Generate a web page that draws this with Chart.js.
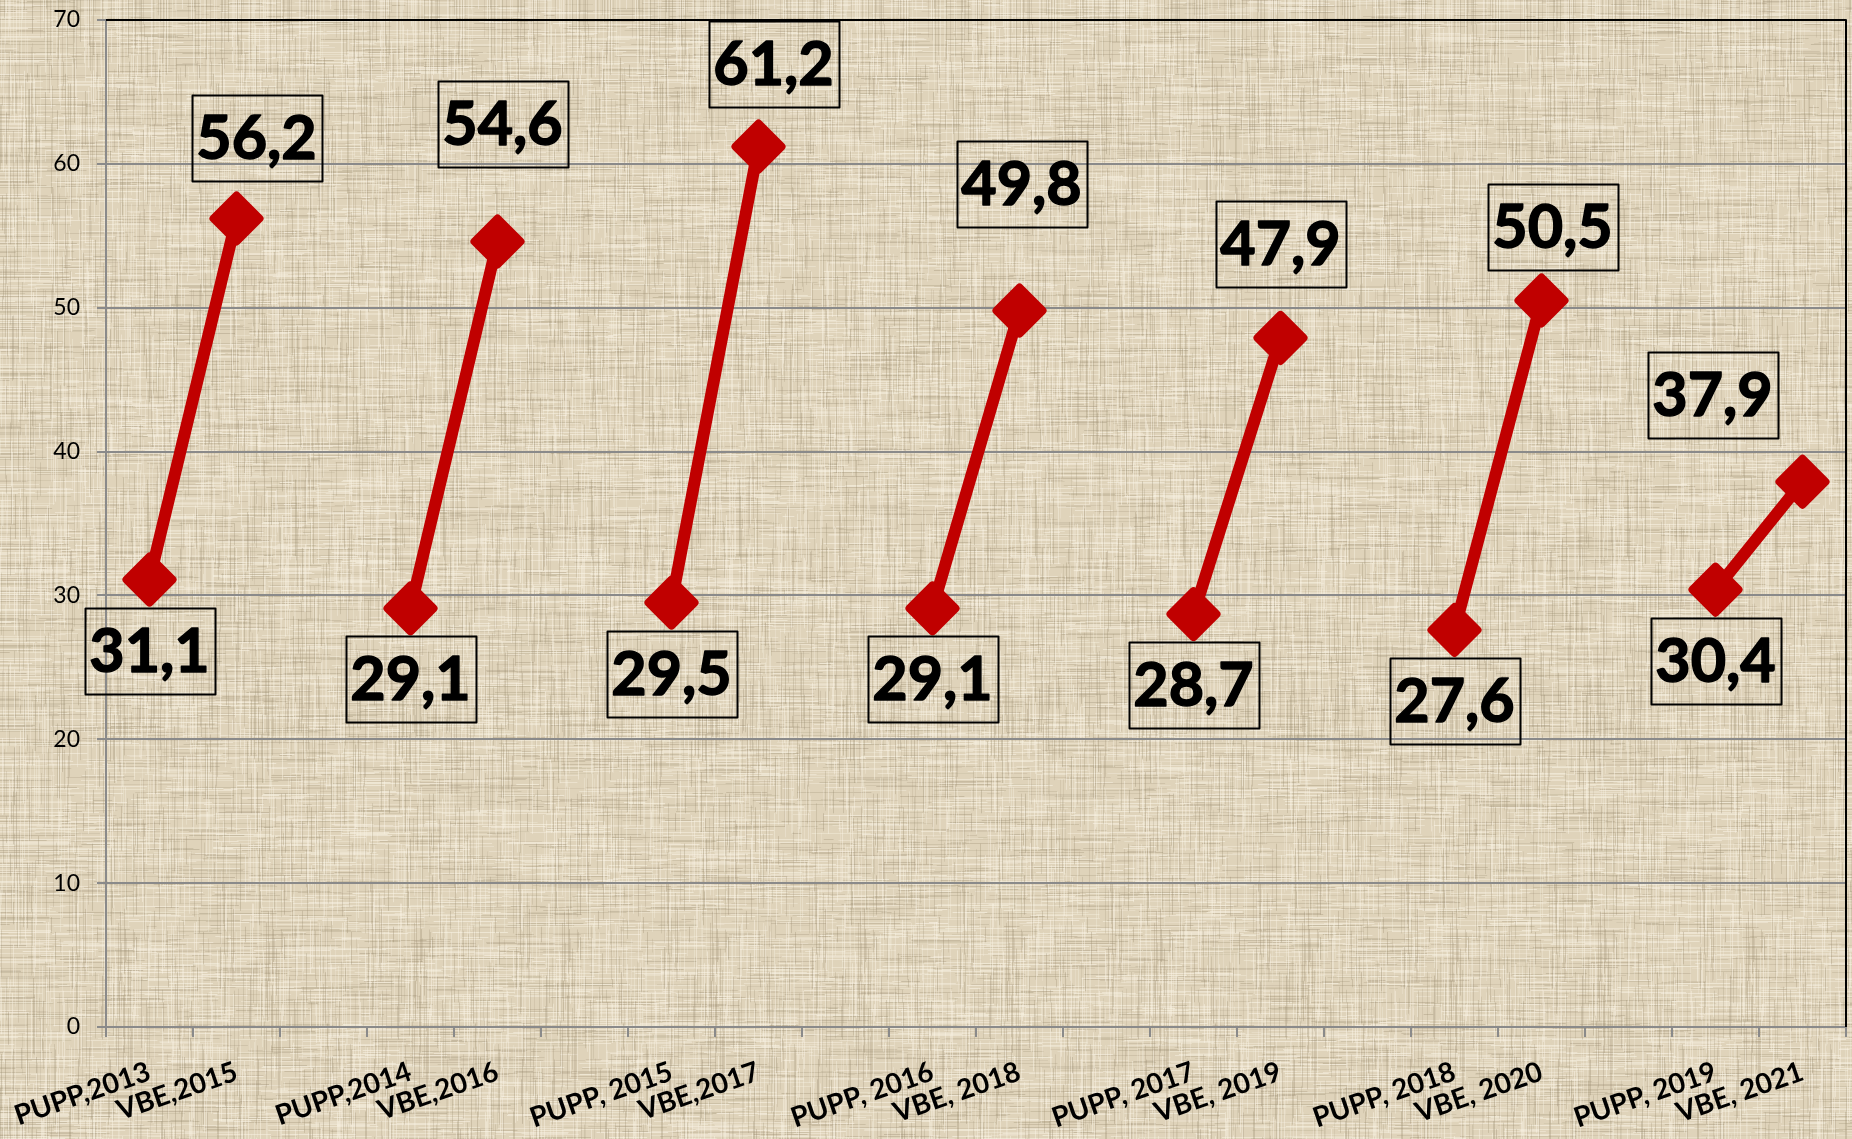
<!DOCTYPE html>
<html><head><meta charset="utf-8">
<script src="https://cdn.jsdelivr.net/npm/chart.js@4.4.1/dist/chart.umd.min.js"></script>
<style>html,body{margin:0;padding:0;background:#ddd4bf;overflow:hidden}canvas{display:block}</style>
</head><body>
<canvas id="c" width="1852" height="1139"></canvas>
<script>
// ---- data ----
const puppLabels = ["PUPP,2013","PUPP,2014","PUPP, 2015","PUPP, 2016","PUPP, 2017","PUPP, 2018","PUPP, 2019"];
const vbeLabels  = ["VBE,2015","VBE,2016","VBE,2017","VBE, 2018","VBE, 2019","VBE, 2020","VBE, 2021"];
const puppValues = [31.1, 29.1, 29.5, 29.1, 28.7, 27.6, 30.4];
const vbeValues  = [56.2, 54.6, 61.2, 49.8, 47.9, 50.5, 37.9];
const yMin = 0, yMax = 70, yStep = 10;

// ---- label placement (style, pixels) ----
const puppLabelDrop = 71;
const vbeLabelShift = [[20,-81],[5,-118],[15,-83],[2,-127],[0,-94],[11,-74],[-90,-87]];

// build category axis: PUPP, VBE, gap, PUPP, VBE, gap ...
const categories = [], series = [], kinds = [], pairIdx = [];
puppLabels.forEach((p, i) => {
  if (i > 0) { categories.push(""); series.push(null); kinds.push(null); pairIdx.push(i); }
  categories.push(p); series.push(puppValues[i]); kinds.push("pupp"); pairIdx.push(i);
  categories.push(vbeLabels[i]); series.push(vbeValues[i]); kinds.push("vbe"); pairIdx.push(i);
});

// ---- background texture (deterministic) ----
function makeTexture(w, h) {
  const c = document.createElement("canvas"); c.width = w; c.height = h;
  const g = c.getContext("2d");
  g.fillStyle = "#dfd3ba"; g.fillRect(0, 0, w, h);
  let s = 987654321;
  const rnd = () => { s = (s * 1103515245 + 12345) & 0x7fffffff; return s / 0x7fffffff; };
  for (let y = 0; y < h; y++) {
    let x = 0;
    while (x < w) {
      const len = 8 + rnd() * 70;
      const r = rnd();
      if (r < 0.3) { g.fillStyle = "rgba(250,244,230," + (0.25 + rnd() * 0.35) + ")"; g.fillRect(x, y, len, 1); }
      else if (r < 0.5) { g.fillStyle = "rgba(150,136,108," + (0.12 + rnd() * 0.22) + ")"; g.fillRect(x, y, len, 1); }
      x += len + rnd() * 30;
    }
  }
  for (let x = 0; x < w; x++) {
    let y = 0;
    while (y < h) {
      const len = 8 + rnd() * 70;
      const r = rnd();
      if (r < 0.25) { g.fillStyle = "rgba(250,244,230," + (0.2 + rnd() * 0.3) + ")"; g.fillRect(x, y, 1, len); }
      else if (r < 0.45) { g.fillStyle = "rgba(150,136,108," + (0.12 + rnd() * 0.22) + ")"; g.fillRect(x, y, 1, len); }
      y += len + rnd() * 30;
    }
  }
  return c;
}
const textureCanvas = makeTexture(1852, 1139);

const fmt = v => v.toFixed(1).replace(".", ",");

const decor = {
  id: "decor",
  beforeDraw(chart) {
    chart.ctx.save();
    chart.ctx.drawImage(textureCanvas, 0, 0);
    chart.ctx.restore();
  },
  beforeDatasetDraw(chart) { chart.ctx.lineJoin = "round"; },
  afterDatasetsDraw(chart) {
    const ctx = chart.ctx, a = chart.chartArea;
    ctx.save();
    ctx.strokeStyle = "#000"; ctx.lineWidth = 2;
    ctx.beginPath(); ctx.moveTo(a.left, a.top); ctx.lineTo(a.right, a.top); ctx.lineTo(a.right, a.bottom); ctx.stroke();
    const meta = chart.getDatasetMeta(0);
    ctx.font = "bold 61px Lato";
    ctx.textAlign = "center"; ctx.textBaseline = "alphabetic";
    series.forEach((v, i) => {
      if (v === null) return;
      const el = meta.data[i];
      let cx = el.x, cy = el.y;
      if (kinds[i] === "pupp") { cy += puppLabelDrop; }
      else { const sh = vbeLabelShift[pairIdx[i]]; cx += sh[0]; cy += sh[1]; }
      ctx.lineWidth = 2; ctx.strokeStyle = "#000";
      ctx.strokeRect(Math.round(cx - 65) + 0.5, Math.round(cy - 43) + 0.5, 130, 86);
      ctx.fillStyle = "#000";
      ctx.fillText(fmt(v), cx, cy + 21);
      ctx.lineWidth = 1.5; ctx.lineJoin = "round";
      ctx.strokeText(fmt(v), cx, cy + 21);
    });
    ctx.restore();
  }
};

new Chart(document.getElementById("c"), {
  type: "line",
  data: {
    labels: categories,
    datasets: [{
      data: series,
      borderColor: "#C00000",
      backgroundColor: "#C00000",
      borderWidth: 12,
      borderJoinStyle: "round",
      spanGaps: false,
      pointStyle: "rectRot",
      pointRadius: 23,
      pointBorderWidth: 8,
      pointBackgroundColor: "#C00000",
      pointBorderColor: "#C00000",
      clip: false
    }]
  },
  options: {
    responsive: false,
    animation: false,
    layout: { autoPadding: false, padding: { top: 20, right: 6, left: 0, bottom: 0 } },
    plugins: { legend: { display: false }, tooltip: { enabled: false } },
    scales: {
      x: {
        offset: true,
        grid: { offset: true, drawOnChartArea: false, drawTicks: true, tickLength: 10, color: "#8a8a8a", lineWidth: 2 },
        border: { color: "#8a8a8a", width: 2 },
        ticks: { autoSkip: false, maxRotation: 19, minRotation: 19, padding: 18, color: "#000",
                 font: { family: "Lato", weight: "bold", size: 28 } },
        afterFit(scale) { scale.height = 112; scale.paddingLeft = 0; scale.paddingRight = 0; }
      },
      y: {
        min: yMin, max: yMax,
        grid: { color: "#8a8a8a", lineWidth: 2, tickLength: 9, drawTicks: true },
        border: { color: "#8a8a8a", width: 2 },
        ticks: { stepSize: yStep, padding: 17, color: "#000", font: { family: "Lato", size: 23 } },
        afterFit(scale) { scale.width = 106; scale.paddingTop = 0; scale.paddingBottom = 0; }
      }
    }
  },
  plugins: [decor]
});
</script>
</body></html>
